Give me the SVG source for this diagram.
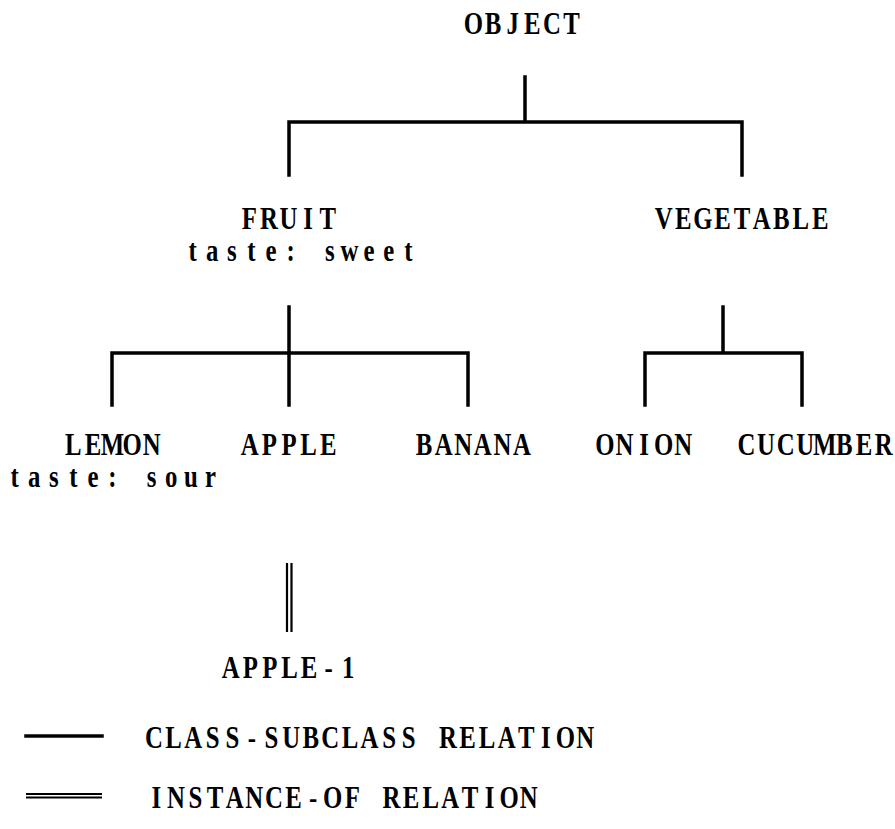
<svg xmlns="http://www.w3.org/2000/svg" width="895" height="829" viewBox="0 0 895 829">
  <style>
    .t { font-family: "Liberation Serif", "Times New Roman", serif; font-weight: bold; font-size: 31px; text-anchor: middle; fill: #000; }
    .cls { stroke: #000; stroke-width: 3.5; fill: none; stroke-linecap: square; }
    .inst { stroke: #000; stroke-width: 2.2; fill: none; }
  </style>
  <rect width="895" height="829" fill="#fff"/>

  <!-- connectors: class-subclass brackets and the instance-of double line -->
  <g id="connectors">
    <path class="cls" d="M525 77 V122 M289 122 H742 M289 122 V175 M742 122 V175"/>
    <path class="cls" d="M289 307 V405 M112 353 H468 M112 353 V405 M468 353 V405"/>
    <path class="cls" d="M723 307 V353 M645 353 H802 M645 353 V405 M802 353 V405"/>
    <path class="inst" d="M287 563 V632 M291.5 563 V632"/>
  </g>

  <!-- nodes: each glyph sits centred in a fixed typewriter cell -->
  <g id="object">
    <text class="t" transform="translate(522.5 34) scale(0.8 1)" x="-61.25 -36.75 -12.25 12.25 36.75 61.25">OBJECT</text>
  </g>
  <g id="fruit">
    <text class="t" transform="translate(288.5 229) scale(0.8 1)" x="-49 -24.5 0 24.5 49">FRUIT</text>
    <text class="t" transform="translate(300.5 261) scale(0.8 1)" x="-134.75 -110.25 -85.75 -61.25 -36.75 -12.25 12.25 36.75 61.25 85.75 110.25 134.75">taste: sweet</text>
  </g>
  <g id="vegetable">
    <text class="t" transform="translate(742 229) scale(0.8 1)" x="-98 -73.5 -49 -24.5 0 24.5 49 73.5 98">VEGETABLE</text>
  </g>
  <g id="lemon">
    <text class="t" transform="translate(112.5 455) scale(0.8 1)" x="-49 -24.5 0 24.5 49">LEMON</text>
    <text class="t" transform="translate(112.5 487) scale(0.8 1)" x="-122.5 -98 -73.5 -49 -24.5 0 24.5 49 73.5 98 122.5">taste: sour</text>
  </g>
  <g id="apple">
    <text class="t" transform="translate(289 455) scale(0.8 1)" x="-49 -24.5 0 24.5 49">APPLE</text>
  </g>
  <g id="banana">
    <text class="t" transform="translate(473 455) scale(0.8 1)" x="-61.25 -36.75 -12.25 12.25 36.75 61.25">BANANA</text>
  </g>
  <g id="onion">
    <text class="t" transform="translate(644 455) scale(0.8 1)" x="-49 -24.5 0 24.5 49">ONION</text>
  </g>
  <g id="cucumber">
    <text class="t" transform="translate(815 455) scale(0.8 1)" x="-85.75 -61.25 -36.75 -12.25 12.25 36.75 61.25 85.75">CUCUMBER</text>
  </g>
  <g id="apple-1">
    <text class="t" transform="translate(289.5 678) scale(0.8 1)" x="-73.5 -49 -24.5 0 24.5 49 73.5">APPLE-1</text>
  </g>

  <!-- legend -->
  <g id="legend">
    <line class="cls" x1="26" y1="736" x2="102" y2="736" stroke-linecap="butt"/>
    <text class="t" transform="translate(369.5 748) scale(0.8 1)" x="-269.5 -245 -220.5 -196 -171.5 -147 -122.5 -98 -73.5 -49 -24.5 0 24.5 49 73.5 98 122.5 147 171.5 196 220.5 245 269.5">CLASS-SUBCLASS RELATION</text>
    <path class="inst" d="M26 794 H102 M26 797.5 H102"/>
    <text class="t" transform="translate(342.5 808) scale(0.8 1)" x="-232.75 -208.25 -183.75 -159.25 -134.75 -110.25 -85.75 -61.25 -36.75 -12.25 12.25 36.75 61.25 85.75 110.25 134.75 159.25 183.75 208.25 232.75">INSTANCE-OF RELATION</text>
  </g>
</svg>
